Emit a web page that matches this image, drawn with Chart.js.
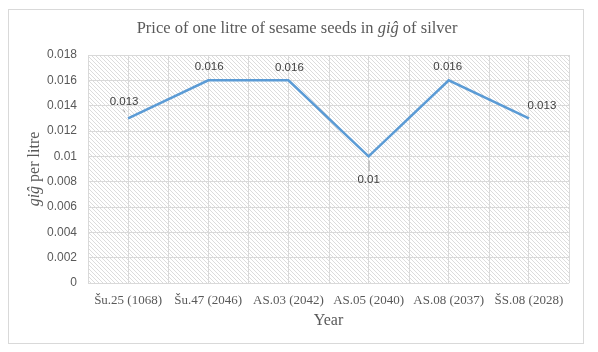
<!DOCTYPE html>
<html>
<head>
<meta charset="utf-8">
<script src="https://cdn.jsdelivr.net/npm/chart.js@4"></script>
<style>
  html, body { margin: 0; padding: 0; background: #fff; }
  #wrap { width: 598px; height: 352px; }
</style>
</head>
<body>
<div id="wrap"><canvas id="chart" width="598" height="352"></canvas></div>
<script>
const years = ['Šu.25 (1068)', 'Šu.47 (2046)', 'AS.03 (2042)', 'AS.05 (2040)', 'AS.08 (2037)', 'ŠS.08 (2028)'];
const prices = [0.013, 0.016, 0.016, 0.01, 0.016, 0.013];
const yTicks = [0, 0.002, 0.004, 0.006, 0.008, 0.01, 0.012, 0.014, 0.016, 0.018];

// label offsets relative to each point (dx, dy, leader line?)
const labelOffsets = [[-4, -17, true], [1, -14, false], [1, -13, false], [0, 23, true], [-1, -14, false], [13, -13, false]];

const serif = "'Liberation Serif', 'DejaVu Serif', serif";
const sans = "'Liberation Sans', Arial, sans-serif";

function makeHatch(ctx) {
  const c = document.createElement('canvas');
  c.width = 4; c.height = 4;
  const g = c.getContext('2d');
  g.fillStyle = '#ffffff';
  g.fillRect(0, 0, 4, 4);
  g.fillStyle = '#dcdcdc';
  for (let i = 0; i < 4; i++) g.fillRect(i, i, 1, 1);
  return ctx.createPattern(c, 'repeat');
}

const decor = {
  id: 'decor',
  beforeDraw(chart) {
    const ctx = chart.ctx;
    const a = chart.chartArea;
    ctx.save();
    ctx.fillStyle = '#fff';
    ctx.fillRect(0, 0, chart.width, chart.height);
    ctx.strokeStyle = '#d9d9d9';
    ctx.lineWidth = 1;
    ctx.strokeRect(8.5, 9.5, 575, 334);
    ctx.fillStyle = makeHatch(ctx);
    ctx.fillRect(a.left, a.top, a.right - a.left, a.bottom - a.top);
    ctx.restore();
  },
  beforeDatasetsDraw(chart) {
    // category boundary gridlines
    const ctx = chart.ctx;
    const a = chart.chartArea;
    const xs = chart.scales.x;
    const step = xs.getPixelForValue(1) - xs.getPixelForValue(0);
    ctx.save();
    ctx.strokeStyle = '#d9d9d9';
    ctx.lineWidth = 1;
    for (let i = 0; i <= years.length; i++) {
      const x = Math.round(xs.getPixelForValue(0) - step / 2 + i * step) + 0.5;
      ctx.beginPath();
      ctx.moveTo(x, a.top);
      ctx.lineTo(x, a.bottom);
      ctx.stroke();
    }
    ctx.restore();
  },
  afterDraw(chart) {
    const ctx = chart.ctx;
    const a = chart.chartArea;
    ctx.save();
    // title with italic part
    const parts = [
      ['Price of one litre of sesame seeds in ', 'normal'],
      ['giĝ', 'italic'],
      [' of silver', 'normal']
    ];
    ctx.fillStyle = '#595959';
    ctx.textBaseline = 'middle';
    let total = 0;
    parts.forEach(p => { ctx.font = p[1] + ' 16.5px ' + serif; total += ctx.measureText(p[0]).width; });
    let x = 297 - total / 2;
    parts.forEach(p => {
      ctx.font = p[1] + ' 16.5px ' + serif;
      ctx.textAlign = 'left';
      ctx.fillText(p[0], x, 29);
      x += ctx.measureText(p[0]).width;
    });

    // x axis title
    ctx.font = '16px ' + serif;
    ctx.textAlign = 'center';
    ctx.fillText('Year', (a.left + a.right) / 2, 321);

    // y axis title
    ctx.translate(35, (a.top + a.bottom) / 2);
    ctx.rotate(-Math.PI / 2);
    const yparts = [['giĝ', 'italic'], [' per litre', 'normal']];
    total = 0;
    yparts.forEach(p => { ctx.font = p[1] + ' 16px ' + serif; total += ctx.measureText(p[0]).width; });
    x = -total / 2;
    yparts.forEach(p => {
      ctx.font = p[1] + ' 16px ' + serif;
      ctx.textAlign = 'left';
      ctx.fillText(p[0], x, 0);
      x += ctx.measureText(p[0]).width;
    });
    ctx.restore();

    // data labels
    const meta = chart.getDatasetMeta(0);
    ctx.save();
    ctx.font = '11.5px ' + sans;
    ctx.fillStyle = '#404040';
    ctx.textAlign = 'center';
    ctx.textBaseline = 'middle';
    meta.data.forEach((pt, i) => {
      const [dx, dy, leader] = labelOffsets[i];
      if (leader) {
        ctx.strokeStyle = '#a6a6a6';
        ctx.lineWidth = 1;
        ctx.beginPath();
        if (dy > 0) {
          ctx.moveTo(pt.x + 0.5, pt.y + 4);
          ctx.lineTo(pt.x + 0.5, pt.y + dy - 8);
        } else {
          ctx.moveTo(pt.x - 5, pt.y - 9);
          ctx.lineTo(pt.x - 3, pt.y - 6);
        }
        ctx.stroke();
      }
      ctx.fillText(String(prices[i]), pt.x + dx, pt.y + dy);
    });
    ctx.restore();
  }
};

new Chart(document.getElementById('chart'), {
  type: 'line',
  data: {
    labels: years,
    datasets: [{
      data: prices,
      borderColor: '#5b9bd5',
      borderWidth: 2.5,
      pointRadius: 0,
      fill: false,
      tension: 0
    }]
  },
  plugins: [decor],
  options: {
    responsive: false,
    animation: false,
    layout: { padding: { left: 8, top: 55, right: 29, bottom: 0 } },
    plugins: {
      legend: { display: false },
      tooltip: { enabled: false },
      title: { display: false }
    },
    scales: {
      x: {
        offset: true,
        grid: { offset: false, color: '#d9d9d9', drawTicks: false },
        border: { display: false },
        ticks: {
          color: '#595959',
          font: { family: serif, size: 13 },
          padding: 10,
          maxRotation: 0,
          autoSkip: false
        },
        afterFit(scale) { scale.height = 69; }
      },
      y: {
        min: 0,
        max: 0.018,
        grid: { color: '#d9d9d9', drawTicks: false },
        border: { display: false },
        afterBuildTicks(scale) { scale.ticks = yTicks.map(v => ({ value: v })); },
        ticks: {
          color: '#595959',
          font: { family: sans, size: 12 },
          padding: 11,
          callback: v => String(Number(v.toFixed(3)))
        },
        afterFit(scale) { scale.width = 80; }
      }
    }
  }
});
</script>
</body>
</html>
